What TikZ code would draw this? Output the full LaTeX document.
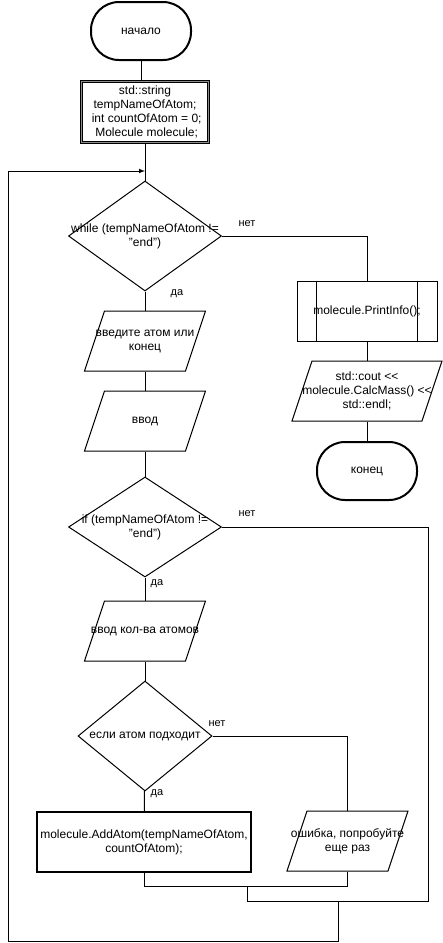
\documentclass[tikz,border=0pt]{standalone}
\usepackage{fontspec}
\setmainfont{Liberation Sans}
\usetikzlibrary{shapes, arrows, positioning}

\begin{document}
\begin{tikzpicture}[x=1pt, y=-1pt, >=latex, line width=1pt, font=\fontsize{12}{14}\selectfont,
    terminal/.style={draw, line width=2pt, rounded corners=28pt, minimum width=100pt, minimum height=58pt},
    process/.style={draw, align=center, inner sep=0pt, minimum height=60pt},
    decision/.style={draw, shape=diamond, inner sep=0pt},
    io/.style={align=center, inner sep=0pt, minimum height=60pt,
        append after command={\pgfextra{\draw ([shift={({-#1/2+20},-30)}]\tikzlastnode.center) -- ([shift={({#1/2},-30)}]\tikzlastnode.center) -- ([shift={({#1/2-20},30)}]\tikzlastnode.center) -- ([shift={({-#1/2},30)}]\tikzlastnode.center) -- cycle;}}},
    io/.default=121,
    subroutine/.style={draw, inner sep=0pt, minimum width=140pt, minimum height=60pt,
        append after command={\pgfextra{\draw ([xshift=20pt]\tikzlastnode.north west) -- ([xshift=20pt]\tikzlastnode.south west) ([xshift=-20pt]\tikzlastnode.north east) -- ([xshift=-20pt]\tikzlastnode.south east);}}},
    answer/.style={font=\fontsize{11}{13}\selectfont}]
    \useasboundingbox (0,0) rectangle (443,943);

    \node[terminal] at (141, 31) (start) {начало};
    \node[process, double=black!45, double distance=0.8pt, line width=0.7pt, minimum width=127pt, minimum height=61pt] at (145, 112) (decl) {std::string\\tempNameOfAtom;\\\ int countOfAtom = 0;\\\ Molecule molecule;};
    \coordinate (loopin) at (145, 171);

    \node[decision, minimum width=153pt, minimum height=110pt, label={[align=center]center:while (tempNameOfAtom !=\\"end")}] at (145, 236) (while) {};
    \node[io] at (145, 341) (ask) {введите атом или\\конец};
    \node[io] at (145, 421) (read) {ввод};
    \node[decision, minimum width=153pt, minimum height=100pt, label={[align=center]center:if (tempNameOfAtom !=\\"end")}] at (145, 527) (ifatom) {};
    \node[io] at (145, 631) (count) {ввод кол-ва атомов};
    \node[decision, minimum width=134pt, minimum height=110pt, label={center:если атом подходит}] at (145, 736) (check) {};
    \node[process, line width=2pt, minimum width=214pt] at (144, 842) (add) {molecule.AddAtom(tempNameOfAtom,\\countOfAtom);};
    \node[io] at (347.5, 841) (err) {ошибка, попробуйте\\еще раз};

    \node[subroutine] at (367, 311) (print) {molecule.PrintInfo();};
    \node[io=150] at (367, 391) (cout) {std::cout <{}<\\molecule.CalcMass() <{}<\\std::endl;};
    \node[terminal] at (367, 471) (finish) {конец};

    \node[answer] at (247, 224) (no1) {нет};
    \node[answer] at (177, 294) (yes1) {да};
    \node[answer] at (247, 514) (no2) {нет};
    \node[answer] at (157, 584) (yes2) {да};
    \node[answer] at (217, 724) (no3) {нет};
    \node[answer] at (157, 794) (yes3) {да};

    \coordinate (join1) at (247, 886);
    \coordinate (join2) at (338, 901);
    \coordinate (rightend) at (428, 901);
    \coordinate (leftend) at (8, 941);

    \draw (start) -- (start |- decl.north);
    \draw (decl) -- (while);
    \draw (while.east) -| (print.north);
    \draw (print) -- (cout);
    \draw (cout) -- (finish);
    \draw (while) -- (ask);
    \draw (ask) -- (read);
    \draw (read) -- (ifatom);
    \draw (ifatom) -- (count);
    \draw (count) -- (check);
    \draw (check) -- (add);
    \draw (check.east) -| (err.north);
    \draw (add.south) |- (join1) -| (err.south);
    \draw (ifatom.east) -| (rightend) -- (join1 |- rightend) -- (join1);
    \draw[->] (join2) |- (leftend) |- (loopin);
\end{tikzpicture}
\end{document}
